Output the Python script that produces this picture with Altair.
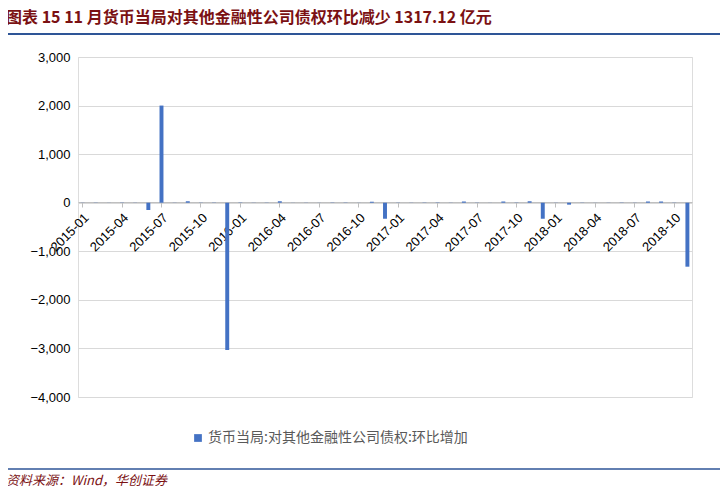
import altair as alt
import pandas as pd

months = [f"{y}-{m:02d}" for y in range(2015, 2019) for m in range(1, 13)][:47]
values = [3, -4, 2, 5, -3, -150, 2000, 3, 30, 4, -5, -3030,
          6, 3, -4, 30, 2, 3, -2, 4, 5, 2, 20, -330,
          4, -3, 5, 6, 3, 25, 4, 2, 25, 5, 30, -330,
          3, -40, 4, 2, 3, 5, -3, 25, 25, 4, -1317.12]
tick_labels = months[::3]

df = pd.DataFrame({"month": months, "value": values})
W, H = 614, 340
blue = "#4472C4"

bars = alt.Chart(df).mark_bar(color=blue).encode(
    x=alt.X("month:N", sort=months, title=None,
            scale=alt.Scale(paddingInner=0.7, paddingOuter=0.2),
            axis=alt.Axis(values=tick_labels, labelAngle=-45, labelAlign="right",
                          labelBaseline="top", labelFontSize=13, labelColor="#000",
                          labelFont="Liberation Sans", ticks=True, tickColor="#bfbfbf",
                          domainColor="#bfbfbf", offset=-195, labelPadding=4)),
    y=alt.Y("value:Q", title=None,
            scale=alt.Scale(domain=[-4000, 3000], nice=False),
            axis=alt.Axis(values=list(range(-4000, 3001, 1000)), format=",.0f",
                          labelFontSize=13, labelColor="#000", labelFont="Liberation Sans",
                          domain=False, ticks=False, gridColor="#d9d9d9", labelPadding=8)),
)

texts = pd.DataFrame({
    "t": ["图表 15    11 月货币当局对其他金融性公司债权环比减少 1317.12 亿元",
          "货币当局:对其他金融性公司债权:环比增加",
          "资料来源：Wind，华创证券"],
})
title = alt.Chart(texts.iloc[[0]]).mark_text(align="left", baseline="middle", fontWeight="bold",
    fontSize=16, color="#7b1113", font="Noto Sans CJK SC").encode(
    x=alt.value(-72), y=alt.value(-39), text="t:N")
legend_txt = alt.Chart(texts.iloc[[1]]).mark_text(align="left", baseline="middle", fontSize=14,
    color="#595959", font="Noto Sans CJK SC").encode(x=alt.value(130), y=alt.value(381), text="t:N")
footer = alt.Chart(texts.iloc[[2]]).mark_text(align="left", baseline="middle", fontSize=13,
    fontStyle="italic", color="#7b1113", font="Noto Sans CJK SC").encode(
    x=alt.value(-72), y=alt.value(424), text="t:N")
sq = alt.Chart(texts.iloc[[1]]).mark_square(size=60, color=blue, opacity=1).encode(
    x=alt.value(120), y=alt.value(381))
line_top = alt.Chart(texts.iloc[[0]]).mark_rule(color="#2e5597", strokeWidth=2).encode(
    x=alt.value(-76), x2=alt.value(644), y=alt.value(-23))
line_bot = alt.Chart(texts.iloc[[0]]).mark_rule(color="#2e5597", strokeWidth=1.5).encode(
    x=alt.value(-76), x2=alt.value(644), y=alt.value(412))

chart = alt.layer(bars, line_top, line_bot, title, legend_txt, footer, sq).properties(
    width=W, height=H, autosize=alt.AutoSizeParams(type="none"),
    padding={"left": 70, "top": 49, "right": 28, "bottom": 90},
).configure_view(stroke=None).configure(background="white")

chart.save("out.html", embed_options={"renderer": "svg", "actions": False})
